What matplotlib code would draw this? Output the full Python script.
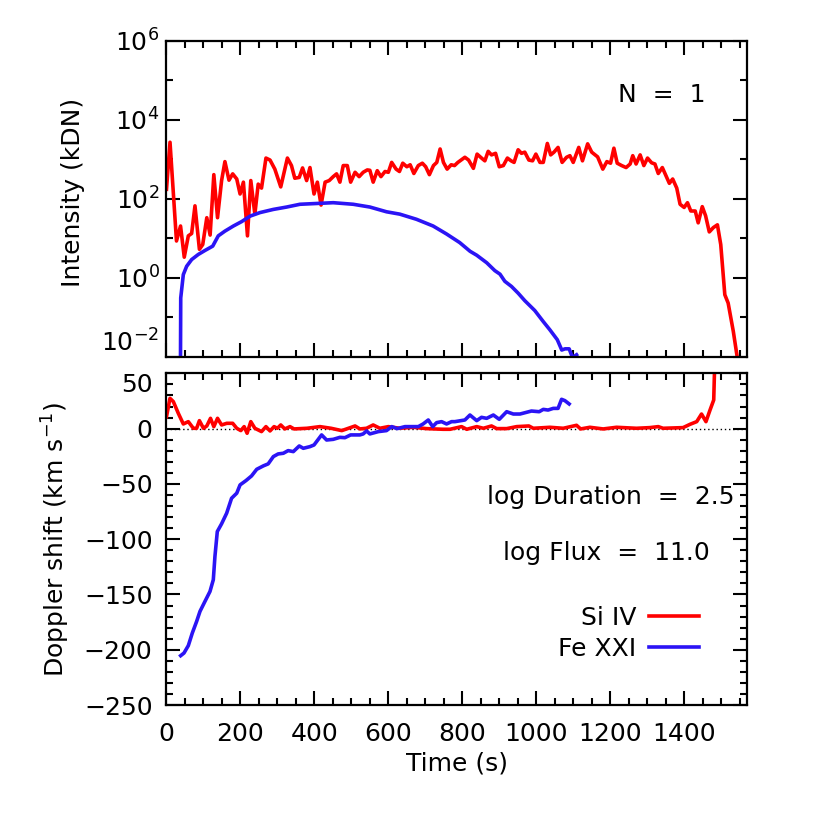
import numpy as np
import matplotlib
matplotlib.use("Agg")
import matplotlib.pyplot as plt
from matplotlib.ticker import MultipleLocator, NullFormatter

# Si IV intensity: time (s), log10 intensity (kDN)
si_int_t = [0, 9.5, 27, 38, 48, 59, 68, 77, 89, 98, 109, 118, 128, 138, 149, 158, 169, 179,
            190, 199, 208, 219, 228, 239, 248, 257, 269, 280, 293, 309, 327, 338, 347, 359,
            368, 379, 388, 399, 408, 418, 429, 440, 451, 460, 469, 478, 489, 498, 510, 521,
            532, 543, 550, 559, 570, 580, 591, 600, 609, 621, 630, 639, 650, 659, 669, 681,
            692, 701, 711, 722, 731, 740, 749, 759, 770, 779, 788, 807, 817, 830, 840, 852,
            861, 870, 879, 890, 900, 911, 922, 932, 940, 951, 960, 969, 980, 990, 999, 1010,
            1019, 1030, 1039, 1048, 1059, 1070, 1082, 1091, 1100, 1115, 1125, 1139, 1150,
            1166, 1180, 1191, 1201, 1210, 1219, 1231, 1243, 1254, 1261, 1270, 1281, 1291,
            1301, 1312, 1321, 1330, 1341, 1351, 1360, 1369, 1380, 1389, 1400, 1409, 1418,
            1430, 1438, 1449, 1458, 1468, 1479, 1490, 1499, 1510, 1519, 1533, 1545, 1560]
si_int_log = [2.24, 3.43, 0.93, 1.31, 0.52, 1.06, 1.12, 1.82, 0.72, 0.84, 1.52, 1.08, 2.61,
              1.52, 2.46, 2.94, 2.47, 2.63, 2.50, 2.12, 2.42, 1.06, 2.46, 1.61, 2.37, 2.27,
              3.03, 2.98, 2.75, 2.30, 3.03, 2.84, 2.52, 2.54, 2.78, 2.46, 2.79, 2.12, 2.42,
              1.84, 2.42, 2.46, 2.56, 2.63, 2.42, 2.84, 2.84, 2.42, 2.67, 2.56, 2.67, 2.73,
              2.72, 2.42, 2.71, 2.56, 2.69, 2.67, 2.92, 2.75, 2.69, 2.90, 2.81, 2.86, 2.64,
              2.84, 2.90, 2.81, 2.61, 2.84, 2.92, 3.26, 2.92, 2.75, 2.86, 2.84, 2.92, 3.05,
              2.98, 2.77, 3.13, 3.03, 2.96, 3.20, 3.11, 3.15, 2.81, 2.84, 3.03, 2.96, 2.92,
              3.24, 3.15, 3.18, 2.98, 2.96, 3.13, 2.92, 2.92, 3.40, 3.11, 3.18, 3.30, 2.92,
              3.05, 3.09, 2.92, 3.30, 2.96, 3.39, 3.18, 3.06, 2.75, 2.94, 2.90, 3.28, 2.90,
              2.84, 2.79, 2.88, 3.09, 2.88, 3.11, 2.84, 3.03, 2.91, 2.88, 2.64, 2.79, 2.58,
              2.39, 2.50, 2.27, 1.86, 1.78, 1.90, 1.69, 1.69, 1.39, 1.80, 1.57, 1.16, 1.27,
              1.34, 0.84, -0.43, -0.64, -1.36, -2.10, -2.50]

# Fe XXI intensity: time (s), log10 intensity (kDN)
fe_int_t = [37, 38.5, 45.5, 54.5, 68, 86, 104, 125, 140, 158, 181, 203, 226, 253, 289, 325,
            361, 406, 451, 505, 550, 595, 631, 676, 721, 757, 793, 821, 839, 866, 888, 902,
            915, 933, 951, 969, 996, 1019, 1037, 1057, 1069, 1078, 1089, 1098, 1109]
fe_int_log = [-4.0, -0.51, 0.08, 0.29, 0.46, 0.59, 0.69, 0.80, 1.06, 1.18, 1.31, 1.42, 1.56,
              1.65, 1.73, 1.79, 1.86, 1.88, 1.90, 1.86, 1.79, 1.67, 1.61, 1.48, 1.31, 1.11,
              0.89, 0.67, 0.57, 0.38, 0.18, 0.09, -0.09, -0.22, -0.39, -0.58, -0.83, -1.11,
              -1.32, -1.57, -1.83, -1.80, -1.80, -2.02, -1.95]

# Si IV Doppler shift: time (s), km/s
si_dop_t = [0, 9.4, 18.5, 32, 45.5, 59, 72.5, 81.5, 89, 100, 109, 119, 128, 138, 149, 163,
            179, 190, 201, 210, 218, 228, 239, 257, 269, 280, 291, 300, 309, 320, 334, 345,
            380, 415, 445, 474, 487, 510, 523, 541, 559, 577, 600, 631, 667, 703, 748, 767,
            798, 812, 839, 857, 879, 893, 920, 947, 980, 992, 1037, 1073, 1109, 1120, 1145,
            1181, 1217, 1271, 1307, 1330, 1343, 1397, 1416, 1434, 1447, 1459, 1470, 1480, 1490]
si_dop_v = [10.8, 27.4, 24.4, 13.8, 4.2, 6.3, 0.3, 0.3, 7.2, 0.3, 2.4, 9.3, 1.8, 9.3, 3.3, 4.8,
            4.8, 0.3, -1.8, 1.8, -4.2, 6.3, 0.3, -2.7, 1.8, -2.1, 1.8, 0.3, 3.3, -0.3, 1.8, -0.3,
            0.3, 1.8, 0.3, -1.8, -0.3, 2.4, -0.3, 0.3, 3.3, 0.3, 1.8, 0.3, 1.2, 0.0, -0.6, -0.6,
            1.8, -0.6, 1.8, 0.3, 2.4, 0.0, 0.0, 1.8, 2.4, 0.3, 1.2, 0.3, 3.0, -0.3, 1.2,
            -0.3, 1.2, 0.3, 0.9, 1.8, 0.3, 0.9, 3.9, 6.3, 13.2, 6.3, 16.8, 25.9, 150.0]

# Fe XXI Doppler shift: time (s), km/s
fe_dop_t = [38.3, 47.3, 59, 69.8, 81.5, 90.6, 104, 117.6, 126.6, 131, 137.4, 149, 162.7, 176,
            190, 199, 215, 230, 244, 262, 275, 289, 302, 316, 329, 343, 359, 370, 388, 399,
            419.5, 433, 451, 469, 482.6, 498, 523, 532, 541, 550, 573, 595, 609, 624, 645,
            667, 681, 694, 708, 720, 730.5, 744, 757.5, 771, 780, 807, 820.7, 839, 852, 866,
            884, 900, 920, 938, 956, 987, 1008, 1019, 1032, 1046, 1059, 1068.5, 1077.5, 1089]
fe_dop_v = [-205.4, -203, -196.3, -184.9, -174.4, -165.3, -156.3, -147.3, -136.7, -115.6,
            -93.1, -86.1, -76.5, -63, -58.4, -50.9, -47, -42.8, -36.8, -33.7, -31.9, -25.3,
            -22.9, -22.3, -19.9, -20.8, -15.7, -17.8, -16.3, -14.8, -5.7, -10.3, -9.7, -7.9,
            -8.2, -5.7, -5.7, -4.8, -2.1, -4.8, -2.7, -1.8, 1.8, 0.0, 1.8, 1.8, 1.8, 4.2, 7.8,
            1.8, 5.4, 6.3, 4.2, 6.3, 6.3, 7.8, 12.3, 7.2, 10.2, 9.3, 12.3, 8.4, 15.3, 13.2,
            13.2, 15.9, 15.3, 17.4, 16.8, 18.3, 18.3, 26.5, 25.3, 22.3]

x_ticks = [0, 200, 400, 600, 800, 1000, 1200, 1400]
int_ticks = [1e-2, 1e0, 1e2, 1e4, 1e6]
dop_ticks = [-250, -200, -150, -100, -50, 0, 50]

red = '#ff0000'
blue = '#2b14f5'
lw = 2.6

plt.rcParams['font.family'] = ['DejaVu Sans']
plt.rcParams['font.size'] = 18
plt.rcParams['mathtext.default'] = 'regular'
plt.rcParams['axes.linewidth'] = 1.6

fig = plt.figure(figsize=(8.3, 8.3), dpi=100)

# 上のパネル: 強度
ax1 = fig.add_axes([0.2006, 0.5702, 0.6994, 0.3807])
ax1.plot(si_int_t, 10 ** np.array(si_int_log), color=red, lw=lw)
ax1.plot(fe_int_t, 10 ** np.array(fe_int_log), color=blue, lw=lw)
ax1.set_yscale('log')
ax1.set_ylim(1e-2, 1e6)
ax1.set_yticks(int_ticks)
ax1.set_yticks([1e-1, 1e1, 1e3, 1e5], minor=True)
ax1.yaxis.set_minor_formatter(NullFormatter())
ax1.set_ylabel('Intensity (kDN)')
ax1.yaxis.set_label_coords(-0.140, 0.52)
ax1.text(0.928, 0.828, 'N  =  1', transform=ax1.transAxes, ha='right', va='center')

# 下のパネル: ドップラーシフト
ax2 = fig.add_axes([0.2006, 0.1506, 0.6994, 0.3996])
ax2.axhline(0, color='black', lw=1.0, ls=(0, (1, 2)))
ax2.plot(si_dop_t, si_dop_v, color=red, lw=lw, label='Si IV')
ax2.plot(fe_dop_t, fe_dop_v, color=blue, lw=lw, label='Fe XXI')
ax2.set_ylim(-250, 50)
ax2.set_yticks(dop_ticks)
ax2.yaxis.set_minor_locator(MultipleLocator(10))
ax2.set_ylabel('Doppler shift (km s$^{-1}$)')
ax2.yaxis.set_label_coords(-0.163, 0.5)
ax2.set_xlabel('Time (s)', labelpad=4)
ax2.text(0.979, 0.627, 'log Duration  =  2.5', transform=ax2.transAxes, ha='right', va='center')
ax2.text(0.936, 0.458, 'log Flux  =  11.0', transform=ax2.transAxes, ha='right', va='center')
ax2.legend(loc='upper right', bbox_to_anchor=(0.917, 0.30), frameon=False, markerfirst=False,
           handlelength=2.0, handletextpad=0.5, labelspacing=0.3, borderpad=0, borderaxespad=0)

for ax in (ax1, ax2):
    ax.set_xlim(0, 1570)
    ax.set_xticks(x_ticks)
    ax.xaxis.set_minor_locator(MultipleLocator(50))
    ax.tick_params(which='both', direction='in', top=True, right=True, width=1.5)
    ax.tick_params(which='major', length=10)
    ax.tick_params(which='minor', length=5)
    ax.tick_params(axis='x', pad=12)

ax1.tick_params(axis='x', labelbottom=False)
ax1.tick_params(axis='y', pad=5)
ax2.tick_params(axis='y', pad=10)

# 端のラベルが重ならないように、上下にずらす
ax1.yaxis.get_major_ticks()[0].label1.set_va('bottom')
ax2.yaxis.get_major_ticks()[-1].label1.set_va('top')

fig.savefig('out.png', dpi=100)
